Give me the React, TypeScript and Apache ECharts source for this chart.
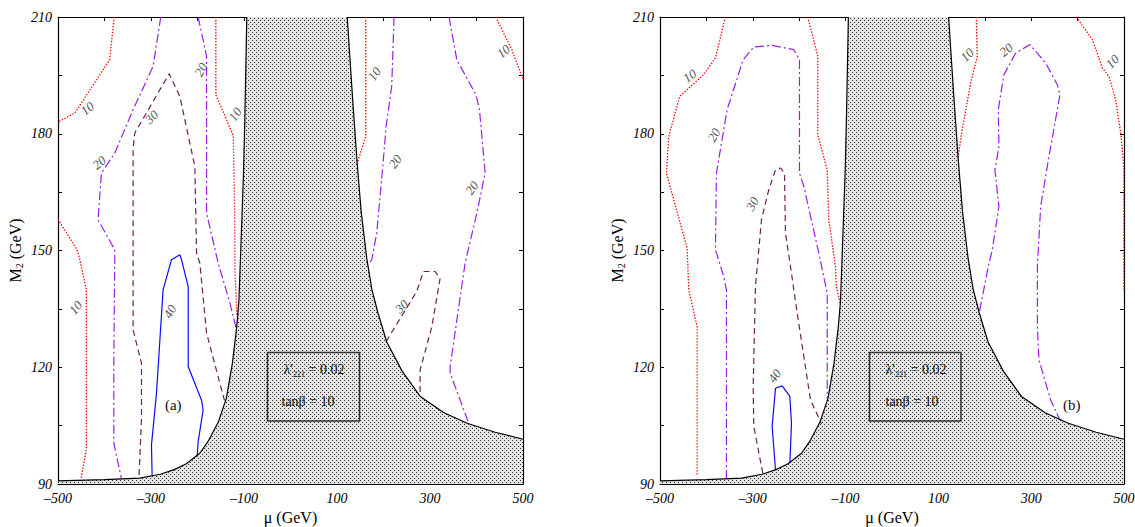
import React, { useEffect, useRef } from "react";
import * as echarts from "echarts";

type P = [number, number];

const SERIF = "Liberation Serif";

// axis ticks
const X_TICK_LABELS = [-500, -300, -100, 100, 300, 500];
const Y_TICK_LABELS = [90, 120, 150, 180, 210];

// excluded (shaded) region boundary, shared by both panels
const wallLeft: P[] = [
  [-500, 90.8], [-400, 91.1], [-324, 91.5], [-280, 92.5], [-250, 93.7], [-224, 95.2],
  [-195, 97.9], [-177, 101], [-155, 106], [-138, 112], [-125, 121], [-116, 130],
  [-111, 137], [-107, 150], [-101, 170], [-98, 185], [-94, 210],
];
const wallRight: P[] = [
  [122, 210], [133, 190], [143, 173], [152, 160], [164, 148], [175, 140], [188, 134],
  [207, 126.5], [240, 119], [279, 112.5], [330, 108.3], [380, 105.6], [440, 103.3], [500, 101.5],
];

// panel (a) contours
const a10TopLeft: P[] = [[-379, 210], [-389, 199], [-464, 185.3], [-500, 183]];
const a10Left: P[] = [[-500, 158], [-459, 150.2], [-453, 147.6], [-439, 140], [-439, 120], [-439, 99], [-450, 91.6]];
const a10NearWall: P[] = [[-160.5, 210], [-160.5, 190], [-123, 179.5], [-120, 160], [-119.6, 145], [-115, 133]];
const a20Outer: P[] = [
  [-279, 210], [-295.5, 197.3], [-338.5, 186.2], [-378, 175], [-406.6, 169.9], [-413.9, 157.9],
  [-378, 150.2], [-378, 147.6], [-380, 120.2], [-380, 100.5], [-363.5, 91.3],
];
const a20Inner: P[] = [[-198.6, 210], [-180.5, 199.9], [-180.5, 159.6], [-156, 147], [-130.3, 136.5], [-117, 130]];
const a30: P[] = [
  [-325.6, 92.3], [-320.5, 106.5], [-320.5, 121], [-338.5, 129.6], [-338.5, 145.9], [-338.5, 175.9],
  [-334.9, 180.2], [-261, 195.4], [-238, 189.6], [-205.7, 171.6], [-202, 149.3], [-195, 146.8],
  [-180.5, 128.8], [-152, 115.9], [-142, 111.5],
];
const a40: P[] = [
  [-297.6, 92.2], [-299, 100], [-288.2, 113.3], [-274, 139.9], [-256, 147.6], [-238, 148.9],
  [-234.3, 147.6], [-220, 140.7], [-220, 120.2], [-191.3, 111.5], [-187.9, 109], [-198.6, 100.9], [-200.8, 97],
];
const a10RightWall: P[] = [[161.8, 210], [161.8, 179.3], [143.7, 172.5]];
const a10TopRight: P[] = [[441.6, 210], [476, 201.6], [497.6, 194.7], [500, 194]];
const a20RightWall: P[] = [
  [222.7, 210], [217.7, 192.2], [205.5, 181.9], [199.7, 173.3], [185.5, 154.5], [174.7, 147.6], [165.5, 146.3],
];
const a20Far: P[] = [
  [341, 210], [357.7, 199], [399, 190], [406.4, 186.2], [418.6, 169.9], [400.7, 159.6],
  [375.6, 146.8], [343.3, 120.2], [343.3, 118.5], [382.7, 105.8],
];
const a30Right: P[] = [
  [205.5, 126.6], [271.6, 139.5], [285.8, 144.6], [311, 144.6], [321.8, 142.9], [303.9, 130.4],
  [278.7, 119.3], [278.7, 112.6],
];

// panel (b) contours
const b10Left: P[] = [
  [-359, 210], [-380.5, 199.5], [-405.8, 195.2], [-457.5, 189.6], [-481.2, 179.3], [-486.2, 169.9],
  [-441.6, 150.6], [-438, 139.9], [-420, 130.4], [-420, 91.9],
];
const b20Left: P[] = [
  [-356.8, 91.3], [-356.8, 139.9], [-362.6, 143.3], [-380.5, 150.2], [-378.4, 169.9], [-355.3, 186.2],
  [-320.8, 199], [-297.9, 202.3], [-258.3, 202.7], [-211.7, 201.6], [-199.4, 199], [-199.4, 169.9],
  [-190, 166.5], [-157.7, 149.3], [-139.6, 139], [-139.6, 113.8], [-139.5, 112],
];
const b30: P[] = [
  [-278.5, 92.8], [-297.9, 104.8], [-299.2, 115], [-294.3, 140.7], [-281.3, 157.9], [-265.6, 165.6],
  [-251.1, 170.7], [-240.4, 171.2], [-231.7, 169.9], [-229.6, 154.5], [-218.8, 145.9], [-204.3, 133.9],
  [-175.7, 111.6], [-152, 105.5],
];
const b40: P[] = [
  [-251.1, 93.6], [-258.3, 104.8], [-251.1, 114.6], [-236.7, 115.2], [-220.3, 112.6], [-216.6, 105.6], [-220, 95.5],
];
const b10NearWall: P[] = [
  [-181.5, 210], [-159.9, 199.9], [-159.9, 179.7], [-139.6, 170.7], [-136.2, 157.9], [-121.8, 145.9],
  [-120, 141], [-112, 136.5],
];
const b10RightWall: P[] = [[181.7, 210], [183.8, 199.9], [169.4, 193], [150, 180.2], [142.5, 174]];
const b20Right: P[] = [
  [188.8, 134.5], [207.6, 145.9], [216.2, 150.2], [230.4, 161.3], [221.8, 170.7], [230.4, 176.7],
  [229.1, 186.2], [241.2, 195.2], [266.4, 200.7], [297.3, 202.9], [331.1, 198.2], [356.4, 192.6],
  [362, 190], [338.3, 174.2], [320.4, 161.3], [313.3, 145.9], [313.3, 130.4], [316.7, 121.9],
  [341.9, 111.6], [361.3, 106.5],
];
const b10TopRight: P[] = [
  [397.3, 210], [431.8, 204.2], [453.4, 196.9], [467.6, 194.7], [482.1, 188.7], [492.9, 180.2],
  [499.5, 171.6], [499.5, 140],
];

// contour level of each curve
const panelACurves: [number, P[]][] = [
  [10, a10TopLeft], [10, a10Left], [10, a10NearWall], [20, a20Outer], [20, a20Inner], [30, a30], [40, a40],
  [10, a10RightWall], [10, a10TopRight], [20, a20RightWall], [20, a20Far], [30, a30Right],
];
const panelBCurves: [number, P[]][] = [
  [10, b10Left], [20, b20Left], [30, b30], [40, b40], [10, b10NearWall], [10, b10RightWall],
  [20, b20Right], [10, b10TopRight],
];

// contour labels: [mu, M2, text, rotation]
const panelALabels: [number, number, string, number][] = [
  [-437, 186.5, "10", 40], [-462, 135.3, "10", 50], [-119, 185, "10", 55], [-411.7, 172.6, "20", 40],
  [-193, 196.5, "20", 60], [-299, 184.3, "30", 45], [-259.5, 134.3, "40", 60], [180, 195.4, "10", 55],
  [458, 201.2, "10", 40], [225, 172.9, "20", 55], [390, 166.1, "20", 55], [239, 135.6, "30", 45],
];
const panelBLabels: [number, number, string, number][] = [
  [-436, 194.9, "10", 35], [-384, 179.7, "20", 60], [-301, 162, "30", 60], [-253, 117.8, "40", 55],
  [162, 200.3, "10", 45], [246, 201.6, "20", 40], [475, 198.6, "10", 45],
];

const levelStyle: Record<number, any> = {
  10: { color: "#ff0000", width: 1.3, type: [1.4, 1.6] },
  20: { color: "#9a1fe6", width: 1.2, type: [9, 3, 2, 3] },
  30: { color: "#6e1f5c", width: 1.2, type: [6, 4] },
  40: { color: "#0a0aff", width: 1.2, type: "solid" },
};

function makeDotPattern() {
  const c = document.createElement("canvas");
  c.width = 4;
  c.height = 4;
  const g = c.getContext("2d")!;
  g.fillStyle = "#e4e4e4";
  g.fillRect(0, 0, 4, 4);
  g.fillStyle = "#2e2e2e";
  g.fillRect(0, 0, 1, 1);
  g.fillRect(2, 2, 1, 1);
  return { image: c.toDataURL(), repeat: "repeat", imageWidth: 4, imageHeight: 4 };
}

function buildOption() {
  const pattern = makeDotPattern();
  const grids = [
    { left: 58, top: 17, width: 465, height: 467 },
    { left: 660, top: 17, width: 464, height: 467 },
  ];
  const xAxes: any[] = [];
  const yAxes: any[] = [];
  const series: any[] = [];
  const lineStyleAxis = { color: "#000", width: 1.2 };
  const tickLabel = { fontFamily: SERIF, fontStyle: "italic", fontSize: 14, color: "#000" };

  grids.forEach((_, gi) => {
    const base = { type: "value", gridIndex: gi, splitLine: { show: false }, axisLine: { show: true, onZero: false, lineStyle: lineStyleAxis }, axisTick: { show: true, inside: true, length: 4, lineStyle: { color: "#000" } } };
    xAxes.push({
      ...base, min: -500, max: 500, interval: 100, position: "bottom",
      axisLabel: { ...tickLabel, margin: 7, formatter: (v: number) => (X_TICK_LABELS.includes(v) ? (v < 0 ? "\u2013" + Math.abs(v) : String(v)) : "") },
      name: "\u03bc (GeV)", nameLocation: "middle", nameGap: 25,
      nameTextStyle: { fontFamily: SERIF, fontSize: 16, color: "#000" },
    });
    xAxes.push({ ...base, min: -500, max: 500, interval: 100, position: "top", axisLabel: { show: false } });
    yAxes.push({
      ...base, min: 90, max: 210, interval: 15, position: "left",
      axisLabel: { ...tickLabel, margin: 6, formatter: (v: number) => (Y_TICK_LABELS.includes(v) ? String(v) : "") },
      name: "{m|M}{s|2}{m| (GeV)}", nameLocation: "middle", nameGap: 34,
      nameTextStyle: {
        color: "#000",
        rich: {
          m: { fontFamily: SERIF, fontSize: 16, color: "#000" },
          s: { fontFamily: SERIF, fontSize: 10, color: "#000", verticalAlign: "bottom", padding: [8, 0, 0, 0] },
        },
      },
    });
    yAxes.push({ ...base, min: 90, max: 210, interval: 15, position: "right", axisLabel: { show: false } });

    const xi = gi * 2;
    const yi = gi * 2;
    const polygon: P[] = [[-500, 90], ...wallLeft, ...wallRight, [500, 90]];
    series.push({
      type: "custom", coordinateSystem: "cartesian2d", xAxisIndex: xi, yAxisIndex: yi, z: 1, silent: true,
      data: [[0, 150]],
      renderItem: (_p: any, api: any) => ({
        type: "polygon",
        shape: { points: polygon.map((pt) => api.coord(pt)) },
        style: { fill: pattern, stroke: null },
      }),
    });
    [wallLeft, wallRight].forEach((w) => {
      series.push({
        type: "line", xAxisIndex: xi, yAxisIndex: yi, data: w, symbol: "none", z: 5, silent: true,
        lineStyle: { color: "#000", width: 1.2 },
      });
    });
    const curves = gi === 0 ? panelACurves : panelBCurves;
    curves.forEach(([lvl, pts]) => {
      series.push({
        type: "line", xAxisIndex: xi, yAxisIndex: yi, data: pts, symbol: "none", z: 3, silent: true,
        lineStyle: { ...levelStyle[lvl] },
      });
    });
    const labels = gi === 0 ? panelALabels : panelBLabels;
    series.push({
      type: "scatter", xAxisIndex: xi, yAxisIndex: yi, symbolSize: 0, z: 6, silent: true,
      data: labels.map(([x, y, t, r]) => ({
        value: [x, y],
        label: { show: true, position: "inside", formatter: t, rotate: r, fontFamily: SERIF, fontStyle: "italic", fontSize: 13, color: "#222" },
      })),
    });
  });

  const boxText = (x: number, y: number, text: string, size = 14) => ({
    type: "text", x, y, z: 100,
    style: { text, fontFamily: SERIF, fontSize: size, fill: "#111", verticalAlign: "middle", align: "left" },
  });
  const graphic: any[] = [];
  [[267.5, 0], [869.5, 1]].forEach(([bx, i]) => {
    const dx = bx - 267.5;
    graphic.push({
      type: "rect", z: 100, shape: { x: bx, y: 352.5, width: i === 0 ? 92 : 91.5, height: 68.5 },
      style: { fill: "rgba(0,0,0,0)", stroke: "#333", lineWidth: 1.5 },
    });
    graphic.push(boxText(283.5 + dx, 369, "\u03bb'"));
    graphic.push(boxText(293 + dx, 374, "221", 8));
    graphic.push(boxText(305 + dx, 369, " = 0.02"));
    graphic.push(boxText((i === 0 ? 281.5 : 283.5) + dx, 401.5, "tan\u03b2 = 10"));
  });
  graphic.push({ type: "text", x: 173.3, y: 405, z: 100, style: { text: "(a)", fontFamily: SERIF, fontSize: 15, fill: "#111", align: "center", verticalAlign: "middle" } });
  graphic.push({ type: "text", x: 1071.7, y: 405, z: 100, style: { text: "(b)", fontFamily: SERIF, fontSize: 15, fill: "#111", align: "center", verticalAlign: "middle" } });

  return {
    animation: false,
    backgroundColor: "#fff",
    grid: grids.map((g) => ({ ...g, containLabel: false, outerBoundsMode: "none" })),
    xAxis: xAxes,
    yAxis: yAxes,
    series,
    graphic,
  };
}

export default function App() {
  const ref = useRef<HTMLDivElement>(null);
  useEffect(() => {
    if (!ref.current) return;
    const chart = echarts.init(ref.current, undefined, { renderer: "svg" });
    chart.setOption(buildOption() as any);
    return () => chart.dispose();
  }, []);
  return <div ref={ref} style={{ position: "absolute", left: 0, top: 0, width: 1135, height: 527 }} />;
}
